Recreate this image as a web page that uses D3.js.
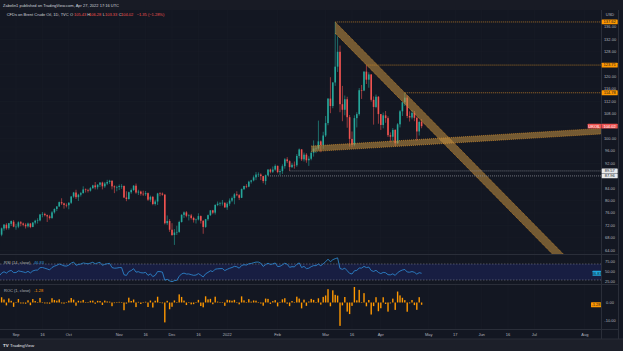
<!DOCTYPE html>
<html><head><meta charset="utf-8">
<script src="https://cdn.jsdelivr.net/npm/d3@7"></script>
<style>html,body{margin:0;padding:0;background:#131722;overflow:hidden}text{font-family:"Liberation Sans",Arial,sans-serif}</style>
</head><body>
<svg id="c" width="623" height="351"></svg>
<script>
// ---------------- DATA ----------------
const dates = [
"2021-08-02","2021-08-03","2021-08-04","2021-08-05","2021-08-06","2021-08-09","2021-08-10","2021-08-11","2021-08-12","2021-08-13","2021-08-16","2021-08-17","2021-08-18","2021-08-19","2021-08-20",
"2021-08-23","2021-08-24","2021-08-25","2021-08-26","2021-08-27","2021-08-30","2021-08-31",
"2021-09-01","2021-09-02","2021-09-03","2021-09-06","2021-09-07","2021-09-08","2021-09-09","2021-09-10","2021-09-13","2021-09-14","2021-09-15","2021-09-16","2021-09-17","2021-09-20","2021-09-21","2021-09-22","2021-09-23","2021-09-24","2021-09-27","2021-09-28","2021-09-29","2021-09-30",
"2021-10-01","2021-10-04","2021-10-05","2021-10-06","2021-10-07","2021-10-08","2021-10-11","2021-10-12","2021-10-13","2021-10-14","2021-10-15","2021-10-18","2021-10-19","2021-10-20","2021-10-21","2021-10-22","2021-10-25","2021-10-26","2021-10-27","2021-10-28","2021-10-29",
"2021-11-01","2021-11-02","2021-11-03","2021-11-04","2021-11-05","2021-11-08","2021-11-09","2021-11-10","2021-11-11","2021-11-12","2021-11-15","2021-11-16","2021-11-17","2021-11-18","2021-11-19","2021-11-22","2021-11-23","2021-11-24","2021-11-25","2021-11-26","2021-11-29","2021-11-30",
"2021-12-01","2021-12-02","2021-12-03","2021-12-06","2021-12-07","2021-12-08","2021-12-09","2021-12-10","2021-12-13","2021-12-14","2021-12-15","2021-12-16","2021-12-17","2021-12-20","2021-12-21","2021-12-22","2021-12-23","2021-12-24","2021-12-27","2021-12-28","2021-12-29","2021-12-30","2021-12-31",
"2022-01-03","2022-01-04","2022-01-05","2022-01-06","2022-01-07","2022-01-10","2022-01-11","2022-01-12","2022-01-13","2022-01-14","2022-01-17","2022-01-18","2022-01-19","2022-01-20","2022-01-21","2022-01-24","2022-01-25","2022-01-26","2022-01-27","2022-01-28","2022-01-31",
"2022-02-01","2022-02-02","2022-02-03","2022-02-04","2022-02-07","2022-02-08","2022-02-09","2022-02-10","2022-02-11","2022-02-14","2022-02-15","2022-02-16","2022-02-17","2022-02-18","2022-02-21","2022-02-22","2022-02-23","2022-02-24","2022-02-25","2022-02-28",
"2022-03-01","2022-03-02","2022-03-03","2022-03-04","2022-03-07","2022-03-08","2022-03-09","2022-03-10","2022-03-11","2022-03-14","2022-03-15","2022-03-16","2022-03-17","2022-03-18","2022-03-21","2022-03-22","2022-03-23","2022-03-24","2022-03-25","2022-03-28","2022-03-29","2022-03-30","2022-03-31",
"2022-04-01","2022-04-04","2022-04-05","2022-04-06","2022-04-07","2022-04-08","2022-04-11","2022-04-12","2022-04-13","2022-04-14","2022-04-18","2022-04-19","2022-04-20","2022-04-21","2022-04-22","2022-04-25","2022-04-26","2022-04-27"];

const opens = [
75.4,72.9,72.4,70.4,71.3,70.7,69.0,70.6,71.4,71.3,70.6,69.5,69.0,68.2,66.5,
65.3,69.0,71.0,72.2,71.1,72.5,73.2,
71.6,71.6,73.0,72.6,72.2,71.7,72.6,71.5,72.9,73.5,73.6,75.5,75.7,75.3,74.9,74.4,76.2,77.3,78.1,79.5,79.1,78.6,
78.5,79.3,81.3,82.6,81.1,81.9,82.4,83.6,83.4,83.2,84.0,84.9,84.3,85.1,85.8,84.6,85.5,86.0,86.4,84.6,84.3,
84.4,84.7,84.7,81.0,80.5,82.7,83.4,84.8,82.6,82.9,82.2,82.05,82.4,80.3,81.2,78.9,79.7,82.3,82.25,81.9,72.7,73.4,
70.6,68.9,69.7,69.9,73.1,75.4,76.2,75.1,75.2,74.4,73.7,73.9,75.0,73.5,71.5,74.0,75.3,76.85,76.1,78.6,79.0,79.2,79.3,
77.8,79.0,80.0,80.8,82.0,81.75,80.9,83.7,84.7,84.5,86.1,86.5,87.5,88.4,88.4,87.9,86.3,88.2,90.0,89.3,90.0,
91.2,89.2,89.5,91.1,93.3,92.7,90.8,91.55,91.4,94.4,96.5,93.3,94.8,93.0,93.5,95.4,96.8,96.8,99.1,97.9,
101.0,105.0,112.9,110.5,118.1,123.2,128.0,111.1,109.3,112.7,106.9,99.9,98.0,106.6,107.9,115.6,115.5,121.6,119.0,120.7,112.5,110.2,113.5,
107.9,104.4,107.5,106.6,101.1,100.6,102.8,98.5,104.6,108.8,111.7,113.2,107.3,106.8,108.3,106.7,102.3,105.43];

const highs = [
75.6,73.6,72.9,71.7,71.8,70.8,70.9,71.7,71.9,71.6,70.7,70.4,70.0,68.5,66.8,
69.1,71.3,72.4,72.7,72.8,73.6,73.7,
72.5,73.3,73.4,72.9,72.7,72.9,72.8,73.1,73.8,74.3,75.7,76.3,76.1,75.5,75.4,76.6,77.5,78.2,79.7,80.75,79.3,79.1,
79.5,81.5,82.8,83.5,82.2,82.8,84.6,83.9,83.8,84.4,85.1,86.0,85.3,86.0,86.1,86.0,86.7,86.7,86.5,84.9,84.8,
85.2,85.3,84.9,83.0,82.9,83.9,85.0,85.5,83.5,83.2,83.2,83.1,82.6,81.6,81.5,80.3,82.5,82.7,82.6,82.1,75.2,74.0,
72.7,70.8,71.9,73.5,75.6,76.5,76.6,75.6,75.7,74.8,74.2,75.9,75.2,73.6,74.1,75.5,76.9,77.0,78.8,79.7,79.6,80.2,79.4,
79.5,80.7,81.3,82.4,83.0,82.1,83.9,84.8,85.3,86.4,86.7,88.1,89.2,89.1,88.8,88.0,88.4,90.1,90.3,91.0,91.7,
91.3,90.1,91.7,93.7,94.0,93.0,92.2,92.6,95.0,96.8,96.6,95.5,95.3,94.3,95.8,99.4,97.5,105.8,99.4,102.2,
107.3,113.0,119.8,118.2,137.62,133.0,130.0,117.0,113.9,113.5,107.6,102.3,107.5,108.5,116.3,117.3,121.7,123.71,121.4,120.7,113.6,114.2,113.7,
107.9,108.4,108.9,107.2,102.0,103.4,103.0,105.0,109.2,111.8,114.78,114.0,108.8,109.2,108.9,106.9,105.8,106.28];

const lows = [
72.5,71.9,70.1,69.9,70.3,68.0,68.8,70.0,70.5,70.0,68.4,68.6,68.0,65.9,64.6,
65.1,68.5,70.3,70.6,70.6,71.8,71.4,
70.6,71.1,71.7,71.7,71.0,71.3,71.1,71.4,72.3,72.6,73.3,74.6,74.9,73.1,73.9,74.1,75.8,76.6,78.0,78.6,77.4,77.8,
77.2,78.9,80.9,80.5,79.9,81.3,82.3,82.6,82.6,82.9,83.8,83.6,83.6,84.4,83.6,84.1,85.0,85.4,83.6,82.4,83.0,
83.4,83.8,80.8,79.8,80.3,82.2,83.1,82.2,81.8,81.6,81.5,81.5,79.9,79.6,78.5,78.4,78.6,81.4,81.6,72.3,72.1,69.9,
68.6,65.7,68.9,69.6,72.9,74.4,74.6,73.6,73.9,72.9,72.6,73.6,72.6,69.3,71.2,73.5,75.0,75.6,75.5,78.2,78.3,78.4,77.7,
77.0,78.3,79.5,78.8,81.4,80.2,80.8,83.4,84.0,84.3,85.5,86.2,86.6,87.6,86.6,85.6,85.1,87.96,88.8,88.9,89.6,
88.8,88.2,88.6,90.3,92.1,89.57,90.5,90.3,90.9,93.6,92.8,92.6,92.2,91.2,93.0,94.2,95.3,96.4,95.6,96.7,
100.5,104.3,108.2,109.8,117.0,121.5,108.5,105.6,107.5,103.5,97.4,97.2,97.5,103.6,107.4,112.8,115.3,117.6,116.4,111.9,104.5,109.8,104.8,
102.8,103.3,105.1,100.5,98.8,99.2,97.6,98.3,103.6,107.3,110.5,106.6,105.5,106.2,105.6,99.3,101.0,103.33];

const closes = [
72.9,72.4,70.4,71.3,70.7,69.0,70.6,71.4,71.3,70.6,69.5,69.0,68.2,66.5,65.2,
69.0,71.05,72.25,71.07,72.7,73.4,71.6,
71.6,73.0,72.6,72.2,71.7,72.6,71.5,72.9,73.5,73.6,75.5,75.7,75.3,74.9,74.4,76.2,77.3,78.1,79.5,79.1,78.6,78.5,
79.3,81.3,82.6,81.1,81.9,82.4,83.6,83.4,83.2,84.0,84.9,84.3,85.1,85.8,84.6,85.5,86.0,86.4,84.6,84.3,84.4,
84.7,84.7,81.0,80.5,82.7,83.4,84.8,82.6,82.9,82.2,82.05,82.4,80.3,81.2,78.9,79.7,82.3,82.25,81.9,72.7,73.4,70.6,
68.9,69.7,69.9,73.1,75.4,76.2,75.1,75.2,74.4,73.7,73.9,75.0,73.5,71.5,74.0,75.3,76.85,76.1,78.6,79.0,79.2,79.3,77.8,
79.0,80.0,80.8,82.0,81.75,80.9,83.7,84.7,84.5,86.1,86.5,87.5,88.4,88.4,87.9,86.3,88.2,90.0,89.3,90.0,91.2,
89.2,89.5,91.1,93.3,92.7,90.8,91.55,91.4,94.4,96.5,93.3,94.8,93.0,93.5,95.4,96.8,96.8,99.1,97.9,101.0,
105.0,112.9,110.5,118.1,123.2,128.0,111.1,109.3,112.7,106.9,99.9,98.0,106.6,107.9,115.6,115.5,121.6,119.0,120.7,112.5,110.2,113.5,107.9,
104.4,107.5,106.6,101.1,100.6,102.8,98.5,104.6,108.8,111.7,113.2,107.3,106.8,108.3,106.7,102.3,105.37,104.02];

const priceTicks = [64,68,72,76,80,84,88,92,96,100,104,108,112,116,120,124,128,132,136];
const rsiTicks = [75,50,25];
const rocTicks = [0,-10];
const timeTicks = [["2021-09-01","Sep"],["2021-09-16","16"],["2021-10-01","Oct"],["2021-11-01","Nov"],["2021-11-16","16"],["2021-12-01","Dec"],["2021-12-16","16"],["2022-01-03","2022"],["2022-02-01","Feb"],["2022-03-01","Mar"],["2022-03-16","16"],["2022-04-01","Apr"],["2022-05-02","May"],["2022-05-17","17"],["2022-06-01","Jun"],["2022-06-16","16"],["2022-07-01","Jul"],["2022-08-01","Aug"]];
// drawings (date, price)
const resistanceLevels = [["2022-03-07",137.62],["2022-03-24",123.71],["2022-04-18",114.78]];
const supportLevels = [["2022-02-08",89.57],["2022-01-26",87.96]];
const downChannel = [["2022-03-07",137.62],["2022-04-18",114.78]]; const downChannelWidth = 3.6;
const upChannel = [["2022-02-21",95.8],["2022-04-11",97.45]]; const upChannelWidth = 1.8;

// ---------------- LAYOUT ----------------
const W=623,H=351,AX=601,AXR=618;
const PT=10,PB=254,RT=255,RB=284,OT=285,OB=329.5,TT=330,TB=339;
const UP="#26a69a",DN="#ef5350",ORG="#ff9800",TXT="#b2b5be",FS=4;
const svg=d3.select("#c");
svg.append("rect").attr("width",W).attr("height",H).attr("fill","#131722");
svg.append("rect").attr("width",W).attr("height",PT).attr("fill","#181b25");
svg.append("rect").attr("y",TB).attr("width",W).attr("height",H-TB).attr("fill","#1c1f29");

// calendar incl. future weekdays
const calendar = dates.slice();
{ let d=new Date(dates[dates.length-1]+"T00:00:00Z"); const end=new Date("2022-08-31T00:00:00Z");
  for(;;){ d=new Date(d.getTime()+86400000); if(d>end) break; const w=d.getUTCDay(); if(w!==0&&w!==6) calendar.push(d.toISOString().slice(0,10)); } }
const idx = s => calendar.indexOf(s);
const BAR=2.4;
const x0 = idx("2021-08-23")+0.33;
const x = d3.scaleLinear().domain([x0, x0+AX/BAR]).range([0,AX]);
const y = d3.scaleLinear().domain([62.77,141.48]).range([PB,PT]);
const yr = d3.scaleLinear().domain([0,100]).range([292,252]);
const yo = d3.scaleLinear().domain([-10,10]).range([320.2,284.8]);

const bars = dates.map((d,i)=>({i:idx(d),o:opens[i],h:highs[i],l:lows[i],c:closes[i]}));

const defs=svg.append("defs");
const clip=(id,y0,y1)=>defs.append("clipPath").attr("id",id).append("rect").attr("x",0).attr("y",y0).attr("width",AX).attr("height",y1-y0);
clip("cp",PT,PB); clip("cr",RT,RB); clip("co",OT,OB);

// grid
const grid=svg.append("g").attr("stroke","#1a1e29").attr("stroke-width",0.5);
grid.selectAll("line.v").data(timeTicks).join("line").attr("x1",d=>x(idx(d[0]))).attr("x2",d=>x(idx(d[0]))).attr("y1",PT).attr("y2",OB);
grid.selectAll("line.h").data(priceTicks).join("line").attr("x1",0).attr("x2",AX).attr("y1",d=>y(d)).attr("y2",d=>y(d));

// ---------------- PRICE PANE ----------------
const pg=svg.append("g").attr("clip-path","url(#cp)");
pg.selectAll("line.wick").data(bars).join("line").attr("x1",d=>x(d.i)).attr("x2",d=>x(d.i))
  .attr("y1",d=>y(d.h)).attr("y2",d=>y(d.l)).attr("stroke",d=>d.c>=d.o?UP:DN).attr("stroke-width",0.6);
const bw=1.6;
pg.selectAll("rect.body").data(bars).join("rect").attr("x",d=>x(d.i)-bw/2).attr("y",d=>y(Math.max(d.o,d.c)))
  .attr("width",bw).attr("height",d=>Math.max(0.6,Math.abs(y(d.o)-y(d.c)))).attr("fill",d=>d.c>=d.o?UP:DN);

// channels
function channel(pts,width,endIdx,fill){
  const i1=idx(pts[0][0]),i2=idx(pts[1][0]),p1=pts[0][1],p2=pts[1][1];
  const s=(p2-p1)/(i2-i1);
  const pe=p1+s*(endIdx-i1);
  const off=width;
  const up=[[i1,p1],[endIdx,pe]], lo=[[i1,p1+off],[endIdx,pe+off]];
  const poly=[up[0],up[1],lo[1],lo[0]].map(p=>[x(p[0]),y(p[1])]);
  pg.append("path").attr("d",d3.line()(poly)+"Z").attr("fill",fill);
  [up,lo].forEach(l=>pg.append("path").attr("d",d3.line()(l.map(p=>[x(p[0]),y(p[1])])))
    .attr("stroke","#d58f2c").attr("stroke-width",0.7).attr("stroke-dasharray","1,1").attr("fill","none"));
}
channel(downChannel,-downChannelWidth,idx("2022-04-18")+110,"rgba(196,146,66,0.55)");
channel(upChannel,upChannelWidth,x.invert(AX)+1,"rgba(196,146,66,0.55)");

// horizontal levels
pg.selectAll("line.res").data(resistanceLevels).join("line").attr("x1",d=>x(idx(d[0]))).attr("x2",AX)
  .attr("y1",d=>y(d[1])).attr("y2",d=>y(d[1])).attr("stroke","#e0902a").attr("stroke-width",0.7).attr("stroke-dasharray","1,1");
pg.selectAll("line.sup").data(supportLevels).join("line").attr("x1",d=>x(idx(d[0]))).attr("x2",AX)
  .attr("y1",d=>y(d[1])).attr("y2",d=>y(d[1])).attr("stroke","#9598a1").attr("stroke-width",0.7).attr("stroke-dasharray","1,1");

// ---------------- RSI ----------------
function rsiCalc(v,n){const out=v.map(()=>null);let g=0,l=0;
  for(let i=1;i<=n;i++){const d=v[i]-v[i-1]; if(d>0)g+=d; else l-=d;} g/=n;l/=n; out[n]=100-100/(1+g/l);
  for(let i=n+1;i<v.length;i++){const d=v[i]-v[i-1]; g=(g*(n-1)+Math.max(d,0))/n; l=(l*(n-1)+Math.max(-d,0))/n; out[i]=l===0?100:100-100/(1+g/l);}
  return out;}
const rsi=rsiCalc(closes,14);
const rsiPts=bars.map((b,i)=>({i:b.i,v:rsi[i]})).filter(d=>d.v!==null);
const rg=svg.append("g").attr("clip-path","url(#cr)");
rg.append("rect").attr("x",0).attr("width",AX).attr("y",yr(70)).attr("height",yr(30)-yr(70)).attr("fill","#181e42");
[70,30].forEach(v=>rg.append("line").attr("x1",0).attr("x2",AX).attr("y1",yr(v)).attr("y2",yr(v)).attr("stroke","#787b86").attr("stroke-width",0.6).attr("stroke-dasharray","1.5,1.5"));
rg.append("path").datum(rsiPts).attr("d",d3.line().x(d=>x(d.i)).y(d=>yr(d.v))).attr("fill","none").attr("stroke","#2f8fdb").attr("stroke-width",0.8);

// ---------------- ROC ----------------
const roc=closes.map((c,i)=>i?100*(c-closes[i-1])/closes[i-1]:0);
const og=svg.append("g").attr("clip-path","url(#co)");
og.selectAll("rect").data(bars.map((b,i)=>({i:b.i,v:roc[i]}))).join("rect")
  .attr("x",d=>x(d.i)-0.7).attr("width",1.4).attr("y",d=>Math.min(yo(0),yo(d.v))).attr("height",d=>Math.max(0.5,Math.abs(yo(d.v)-yo(0)))).attr("fill",ORG);

// ---------------- SEPARATORS / AXES ----------------
const sep=svg.append("g").attr("stroke","#2a2e39").attr("stroke-width",1);
[PB+0.5,RB+0.5,OB].forEach(v=>sep.append("line").attr("x1",0).attr("x2",AXR).attr("y1",v).attr("y2",v));
sep.append("line").attr("x1",0).attr("x2",W).attr("y1",TB).attr("y2",TB);
sep.append("line").attr("x1",AX+0.5).attr("x2",AX+0.5).attr("y1",PT).attr("y2",TB);
sep.append("line").attr("x1",AXR+0.5).attr("x2",AXR+0.5).attr("y1",PT).attr("y2",TB);

const at=svg.append("g").attr("font-size",FS).attr("fill",TXT).attr("text-anchor","middle");
at.selectAll("text.p").data(priceTicks).join("text").attr("x",610).attr("y",d=>y(d)+1.4).text(d=>d.toFixed(2));
at.append("text").attr("x",610).attr("y",15.5).text("USD");
at.selectAll("text.r").data(rsiTicks).join("text").attr("x",610).attr("y",d=>yr(d)+1.4).text(d=>d.toFixed(2));
at.selectAll("text.o").data(rocTicks).join("text").attr("x",610).attr("y",d=>yo(d)+1.4).text(d=>d.toFixed(2));
at.selectAll("text.t").data(timeTicks).join("text").attr("x",d=>x(idx(d[0]))).attr("y",TT+5.6).text(d=>d[1]);

// value boxes
function box(x1,x2,yc,fill,txt,col){svg.append("rect").attr("x",x1).attr("y",yc-2.4).attr("width",x2-x1).attr("height",4.8).attr("fill",fill).attr("rx",0.5);
  svg.append("text").attr("x",(x1+x2)/2).attr("y",yc+1.4).attr("font-size",FS).attr("text-anchor","middle").attr("fill",col).text(txt);}
resistanceLevels.forEach(d=>box(601.7,617.7,y(d[1]),ORG,d[1].toFixed(2),"#131722"));
supportLevels.forEach(d=>box(601.7,617.7,y(d[1]),"#e8e9ec",d[1].toFixed(2),"#131722"));
const last=closes[closes.length-1];
box(587.7,601,y(last),DN,"UKOIL","#fff");
box(601.4,617.7,y(last),DN,last.toFixed(2),"#fff");
const lastRsi=rsi[rsi.length-1];
box(592.5,601,yr(lastRsi),"#1fa8e0",lastRsi.toFixed(2),"#131722");
const lastRoc=roc[roc.length-1];
box(591,601,yo(lastRoc),ORG,lastRoc.toFixed(2),"#131722");

// ---------------- TEXTS ----------------
svg.append("text").attr("x",3).attr("y",6.6).attr("font-size",FS).attr("fill","#d1d4dc").text("Zabelin1 published on TradingView.com, Apr 27, 2022 17:16 UTC");
const leg=[["CFDs on Brent Crude Oil, 1D, TVC",6.7,"#d1d4dc"],["O",70,"#d1d4dc"],[opens[opens.length-1].toFixed(2),74,DN],["H",87.3,"#d1d4dc"],[highs[highs.length-1].toFixed(2),89,DN],
 ["L",102.7,"#d1d4dc"],[lows[lows.length-1].toFixed(2),105,DN],["C",118.7,"#d1d4dc"],[last.toFixed(2),121,DN],
 ["\u2212"+(closes[closes.length-2]-last).toFixed(2)+" (\u2212"+Math.abs(lastRoc).toFixed(2)+"%)",136.7,DN]];
svg.selectAll("text.leg").data(leg).join("text").attr("x",d=>d[1]).attr("y",16.2).attr("font-size",FS).attr("fill",d=>d[2]).text(d=>d[0]);
svg.append("text").attr("x",4).attr("y",263.5).attr("font-size",FS).attr("fill",TXT).text("RSI (14, close)");
svg.append("text").attr("x",34).attr("y",263.5).attr("font-size",FS).attr("fill","#2f8fdb").text(lastRsi.toFixed(2));
svg.append("text").attr("x",4).attr("y",292).attr("font-size",FS).attr("fill",TXT).text("ROC (1, close)");
svg.append("text").attr("x",34).attr("y",292).attr("font-size",FS).attr("fill",ORG).text(lastRoc.toFixed(2));
svg.append("text").attr("x",3).attr("y",346.8).attr("font-size",4.4).attr("font-weight","bold").attr("fill","#e0e3eb").text("TV");
svg.append("text").attr("x",10).attr("y",346.8).attr("font-size",4.4).attr("fill","#e0e3eb").text("TradingView");
</script></body></html>
